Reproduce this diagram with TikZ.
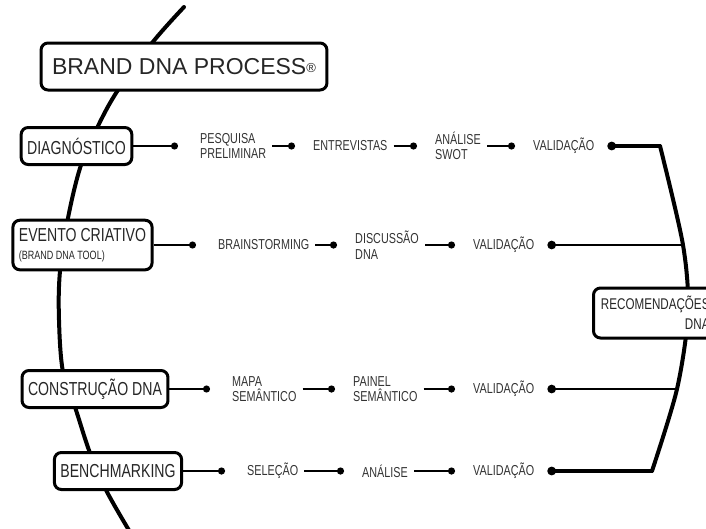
\documentclass[tikz,border=0pt]{standalone}
\usepackage{fontspec}
\setmainfont{Liberation Sans}[FakeStretch=0.75]
\newfontfamily\titlefont{Liberation Sans}
\usetikzlibrary{arrows.meta}
\begin{document}
\begin{tikzpicture}[x=1pt,y=-1pt,
	spine/.style={line width=4pt,line cap=round},
	stage/.style={draw,line width=3pt,rounded corners=7pt,fill=white,minimum height=37pt,inner xsep=6pt,text=black!85,font=\fontsize{18.8}{20}\selectfont},
	task/.style={anchor=west,inner sep=0pt,align=left,text=black!80,font=\fontsize{14.4}{15.5}\selectfont},
	feed/.style={line width=2pt,shorten >=22pt,-{Circle[length=7pt,width=7pt]}},
	link/.style={line width=2.4pt,shorten <=6pt,shorten >=18pt,-{Circle[length=7pt,width=7pt]}},
	closing/.style={line width=2.6pt,shorten <=13pt,{Circle[length=8.5pt,width=8.5pt]}-}]
\useasboundingbox (0,0) rectangle (706,528);
\coordinate (r1) at (660,146);
\coordinate (c2) at (683,245);
\coordinate (cm) at (688,313);
\coordinate (c3) at (677,389);
\coordinate (r4) at (652,471);
\draw [spine] plot [smooth,tension=0.6] coordinates {(184,7) (152,43) (118,90) (98,126) (81,165) (68,218) (60,271) (59,320) (63,372) (75,407) (90,453) (106,490) (130,532)};
\draw [spine] plot [smooth] coordinates {(r1) (c2) (cm) (c3) (r4)};
\node [stage,minimum height=47pt,inner xsep=11pt,font={\titlefont\fontsize{23}{24}\selectfont}] (title) at (184,66.5) {BRAND DNA PROCESS{\fontsize{13}{13}\selectfont\raisebox{2pt}{®}}};
\node [stage] (diag) at (76.5,146) {DIAGNÓSTICO};
\node [stage,align=left,inner ysep=8pt,font=\fontsize{18.8}{18}\selectfont] (evento) at (82.5,245) {EVENTO CRIATIVO\\{\fontsize{12}{13}\selectfont(BRAND DNA TOOL)}};
\node [stage] (constr) at (95,389) {CONSTRUÇÃO DNA};
\node [stage] (bench) at (118,471) {BENCHMARKING};
\node [stage,anchor=west,align=right,text width=110pt,minimum height=50pt,font=\fontsize{15.5}{20}\selectfont] (recom) at (592,313) {RECOMENDAÇÕES\\DNA};
\node [task] (pesq) at (200,146) {PESQUISA\\PRELIMINAR};
\node [task] (entre) at (313,146) {ENTREVISTAS};
\node [task] (swot) at (435,146) {ANÁLISE\\SWOT};
\node [task] (val1) at (533,146) {VALIDAÇÃO};
\node [task] (brain) at (218,245) {BRAINSTORMING};
\node [task] (disc) at (355,245) {DISCUSSÃO\\DNA};
\node [task] (val2) at (473,245) {VALIDAÇÃO};
\node [task] (mapa) at (232,389) {MAPA\\SEMÂNTICO};
\node [task] (painel) at (353,389) {PAINEL\\SEMÂNTICO};
\node [task] (val3) at (473,389) {VALIDAÇÃO};
\node [task] (sel) at (247,471) {SELEÇÃO};
\node [task] (ana) at (362,471) {ANÁLISE};
\node [task] (val4) at (473,471) {VALIDAÇÃO};
\draw [feed] (diag) -- (pesq);
\draw [link] (pesq) -- (entre);
\draw [link] (entre) -- (swot);
\draw [link] (swot) -- (val1);
\draw [closing,line width=4pt] (val1) -- (r1);
\draw [feed] (evento) -- (brain);
\draw [link] (brain) -- (disc);
\draw [link] (disc) -- (val2);
\draw [closing] (val2) -- (c2);
\draw [feed] (constr) -- (mapa);
\draw [link] (mapa) -- (painel);
\draw [link] (painel) -- (val3);
\draw [closing] (val3) -- (c3);
\draw [feed,line width=2.6pt] (bench) -- (sel);
\draw [link] (sel) -- (ana);
\draw [link] (ana) -- (val4);
\draw [closing,line width=4pt] (val4) -- (r4);
\end{tikzpicture}
\end{document}
